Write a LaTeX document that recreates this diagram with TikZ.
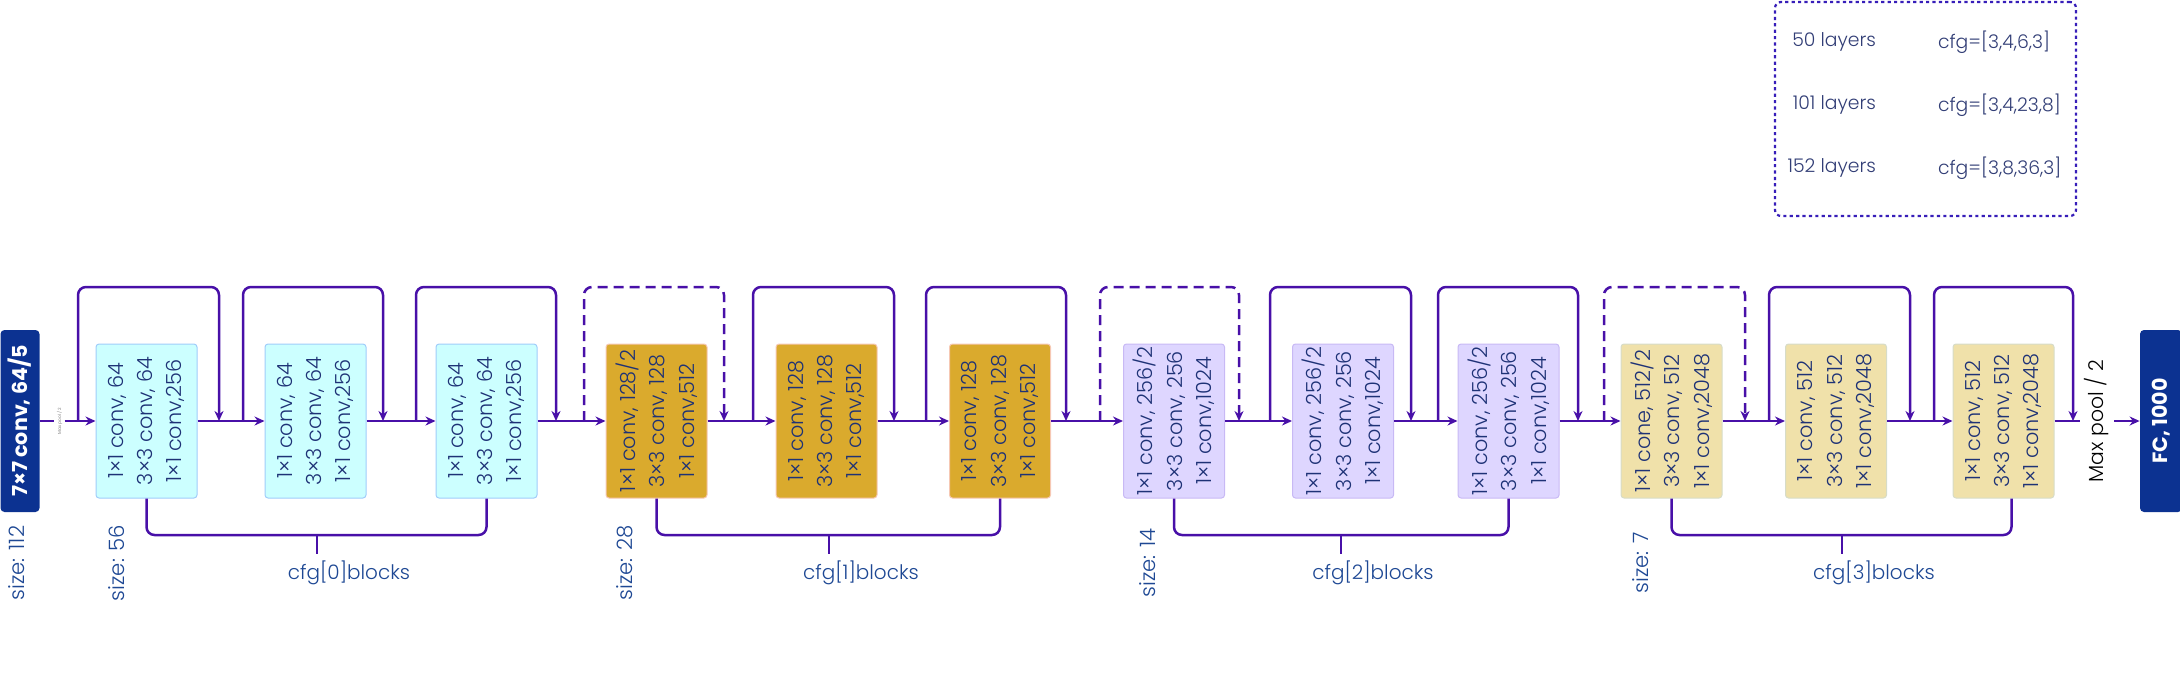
\documentclass[tikz,border=0pt]{standalone}
\usepackage{fontspec}
\setmainfont{Poppins}
\newfontfamily\thinfont{Poppins Light}
\usepackage{xcolor}
\usetikzlibrary{arrows.meta}

\definecolor{linkc}{RGB}{72,16,168}
\definecolor{navyt}{RGB}{30,50,118}
\definecolor{labelt}{RGB}{30,72,148}
\definecolor{legt}{RGB}{50,62,118}
\definecolor{legd}{RGB}{55,30,185}
\definecolor{darkbox}{RGB}{12,50,145}
\definecolor{cyanf}{RGB}{204,255,255}
\definecolor{cyand}{RGB}{160,205,250}
\definecolor{goldf}{RGB}{218,170,45}
\definecolor{goldd}{RGB}{246,200,180}
\definecolor{lavf}{RGB}{222,214,255}
\definecolor{lavd}{RGB}{200,185,245}
\definecolor{tanf}{RGB}{240,225,170}
\definecolor{tand}{RGB}{215,220,200}

\begin{document}
\begin{tikzpicture}[x=0.5pt,y=-0.5pt]
\tikzset{link/.style = {draw=linkc, line width=1.25pt},
         arr/.style = {-{Stealth[length=5pt,width=4.5pt]}},
         skip/.style = {link, arr, rounded corners=4pt},
         dskip/.style = {skip, dash pattern=on 5pt off 3pt},
         blk/.style = {rectangle, rounded corners=1.5pt, line width=0.5pt,
                       minimum width=50.5pt, minimum height=77pt},
         cyanblk/.style = {blk, fill=cyanf, draw=cyand},
         goldblk/.style = {blk, fill=goldf, draw=goldd},
         lavblk/.style = {blk, fill=lavf, draw=lavd},
         tanblk/.style = {blk, fill=tanf, draw=tand},
         txt/.style = {rotate=90, align=center, text=navyt, inner sep=0pt,
                       font=\thinfont\fontsize{10.4}{14.7}\selectfont},
         dark/.style = {rotate=90, fill=darkbox, text=white, rounded corners=2pt,
                        minimum width=91pt, minimum height=19.5pt, inner sep=0pt,
                        font=\fontsize{10.3}{12}\selectfont\bfseries},
         sz/.style = {rotate=90, text=labelt, inner sep=0pt,
                      font=\thinfont\fontsize{10.6}{13}\selectfont},
         cfg/.style = {text=labelt, font=\thinfont\fontsize{10}{13}\selectfont},
         leg/.style = {text=legt, font=\thinfont\fontsize{9.4}{12}\selectfont}}
\useasboundingbox (0,0) rectangle (2180,698);
            % vertices
	\node[dark] (conv) at (20,421) {7×7 conv, 64/5};
	\node[rotate=90, text=gray, inner sep=1pt, font=\fontsize{2.2}{3}\selectfont] (mp0) at (59.5,421) {Max pool / 2};
	\node[cyanblk] (b1) at (146.5,421) {};
	\node[cyanblk] (b2) at (315.5,421) {};
	\node[cyanblk] (b3) at (486.5,421) {};
	\node[goldblk] (b4) at (656.5,421) {};
	\node[goldblk] (b5) at (826.5,421) {};
	\node[goldblk] (b6) at (1000,421) {};
	\node[lavblk] (b7) at (1174,421) {};
	\node[lavblk] (b8) at (1343,421) {};
	\node[lavblk] (b9) at (1508.5,421) {};
	\node[tanblk] (b10) at (1671.5,421) {};
	\node[tanblk] (b11) at (1836,421) {};
	\node[tanblk] (b12) at (2003.5,421) {};
	\node[rotate=90, inner sep=2.2pt, font=\thinfont\fontsize{10.2}{12}\selectfont] (mp) at (2097,421) {Max pool / 2};
	\node[dark, minimum height=21pt] (fc) at (2161,421) {FC, 1000};
            % block texts
	\node[txt] (t1) at (b1) {1×1 conv, 64\\3×3 conv, 64\\1×1 conv,256};
	\node[txt] (t2) at (b2) {1×1 conv, 64\\3×3 conv, 64\\1×1 conv,256};
	\node[txt] (t3) at (b3) {1×1 conv, 64\\3×3 conv, 64\\1×1 conv,256};
	\node[txt] (t4) at (b4) {1×1 conv, 128/2\\3×3 conv, 128\\1×1 conv,512};
	\node[txt] (t5) at (b5) {1×1 conv, 128\\3×3 conv, 128\\1×1 conv,512};
	\node[txt] (t6) at (b6) {1×1 conv, 128\\3×3 conv, 128\\1×1 conv,512};
	\node[txt] (t7) at (b7) {1×1 conv, 256/2\\3×3 conv, 256\\1×1 conv,1024};
	\node[txt] (t8) at (b8) {1×1 conv, 256/2\\3×3 conv, 256\\1×1 conv,1024};
	\node[txt] (t9) at (b9) {1×1 conv, 256/2\\3×3 conv, 256\\1×1 conv,1024};
	\node[txt] (t10) at (b10) {1×1 cone, 512/2\\3×3 conv, 512\\1×1 conv,2048};
	\node[txt] (t11) at (b11) {1×1 conv, 512\\3×3 conv, 512\\1×1 conv,2048};
	\node[txt] (t12) at (b12) {1×1 conv, 512\\3×3 conv, 512\\1×1 conv,2048};
            % labels
	\node[sz] (z0) at (17,563) {size: 112};
	\node[sz] (z1) at (117,563) {size: 56};
	\node[sz] (z2) at (625,563) {size: 28};
	\node[sz] (z3) at (1148,563) {size: 14};
	\node[sz] (z4) at (1641,563) {size: 7};
	\node[cfg] (cfg0) at (349,573) {cfg[0]blocks};
	\node[cfg] (cfg1) at (861,573) {cfg[1]blocks};
	\node[cfg] (cfg2) at (1373,573) {cfg[2]blocks};
	\node[cfg] (cfg3) at (1874,573) {cfg[3]blocks};
            % legend
	\node[draw=legd, line width=1.1pt, dash pattern=on 1.6pt off 1.6pt, rounded corners=3pt,
	      minimum width=150.5pt, minimum height=107pt] (lg) at (1925.5,109) {};
	\node[leg, anchor=east] (l50) at (1883,42) {50 layers};
	\node[leg, anchor=east] (l101) at (1883,105) {101 layers};
	\node[leg, anchor=east] (l152) at (1883,168) {152 layers};
	\node[leg, anchor=west] (c50) at (1931,42) {cfg=[3,4,6,3]};
	\node[leg, anchor=west] (c101) at (1931,105) {cfg=[3,4,23,8]};
	\node[leg, anchor=west] (c152) at (1931,168) {cfg=[3,8,36,3]};
            % skip points
	\coordinate (top) at (0,287);
	\coordinate (bot) at (0,535);
	\coordinate (s1) at (78,421);    \coordinate (e1) at (219,421);
	\coordinate (s2) at (243,421);   \coordinate (e2) at (383,421);
	\coordinate (s3) at (416,421);   \coordinate (e3) at (556,421);
	\coordinate (s4) at (584,421);   \coordinate (e4) at (724,421);
	\coordinate (s5) at (753,421);   \coordinate (e5) at (894,421);
	\coordinate (s6) at (926,421);   \coordinate (e6) at (1066,421);
	\coordinate (s7) at (1100,421);  \coordinate (e7) at (1239,421);
	\coordinate (s8) at (1270,421);  \coordinate (e8) at (1411,421);
	\coordinate (s9) at (1438,421);  \coordinate (e9) at (1578,421);
	\coordinate (s10) at (1604,421); \coordinate (e10) at (1745,421);
	\coordinate (s11) at (1769,421); \coordinate (e11) at (1910,421);
	\coordinate (s12) at (1934,421); \coordinate (e12) at (2073,421);
	\coordinate (m0) at (317,535);
	\coordinate (m1) at (829,535);
	\coordinate (m2) at (1341,535);
	\coordinate (m3) at (1842,535);
            %edges
	\draw[link] (conv) to (mp0);
	\draw[link, arr] (mp0) to (b1);
	\draw[link, arr] (b1) to (b2);
	\draw[link, arr] (b2) to (b3);
	\draw[link, arr] (b3) to (b4);
	\draw[link, arr] (b4) to (b5);
	\draw[link, arr] (b5) to (b6);
	\draw[link, arr] (b6) to (b7);
	\draw[link, arr] (b7) to (b8);
	\draw[link, arr] (b8) to (b9);
	\draw[link, arr] (b9) to (b10);
	\draw[link, arr] (b10) to (b11);
	\draw[link, arr] (b11) to (b12);
	\draw[link] (b12) to (mp);
	\draw[link, arr] (mp) to (fc);
            %shortcuts
	\draw[skip] (s1) |- (e1 |- top) -- (e1);
	\draw[skip] (s2) |- (e2 |- top) -- (e2);
	\draw[skip] (s3) |- (e3 |- top) -- (e3);
	\draw[dskip] (s4) |- (e4 |- top) -- (e4);
	\draw[skip] (s5) |- (e5 |- top) -- (e5);
	\draw[skip] (s6) |- (e6 |- top) -- (e6);
	\draw[dskip] (s7) |- (e7 |- top) -- (e7);
	\draw[skip] (s8) |- (e8 |- top) -- (e8);
	\draw[skip] (s9) |- (e9 |- top) -- (e9);
	\draw[dskip] (s10) |- (e10 |- top) -- (e10);
	\draw[skip] (s11) |- (e11 |- top) -- (e11);
	\draw[skip] (s12) |- (e12 |- top) -- (e12);
            %brackets
	\draw[link, rounded corners=4pt] (b1.south) -- (b1.south |- bot) -- (b3.south |- bot) -- (b3.south);
	\draw[link, rounded corners=4pt] (b4.south) -- (b4.south |- bot) -- (b6.south |- bot) -- (b6.south);
	\draw[link, rounded corners=4pt] (b7.south) -- (b7.south |- bot) -- (b9.south |- bot) -- (b9.south);
	\draw[link, rounded corners=4pt] (b10.south) -- (b10.south |- bot) -- ([xshift=4pt]b12.south |- bot) -- ([xshift=4pt]b12.south);
	\draw[link] (m0) to (m0 |- cfg0.north);
	\draw[link] (m1) to (m1 |- cfg1.north);
	\draw[link] (m2) to (m2 |- cfg2.north);
	\draw[link] (m3) to (m3 |- cfg3.north);
\end{tikzpicture}
\end{document}
